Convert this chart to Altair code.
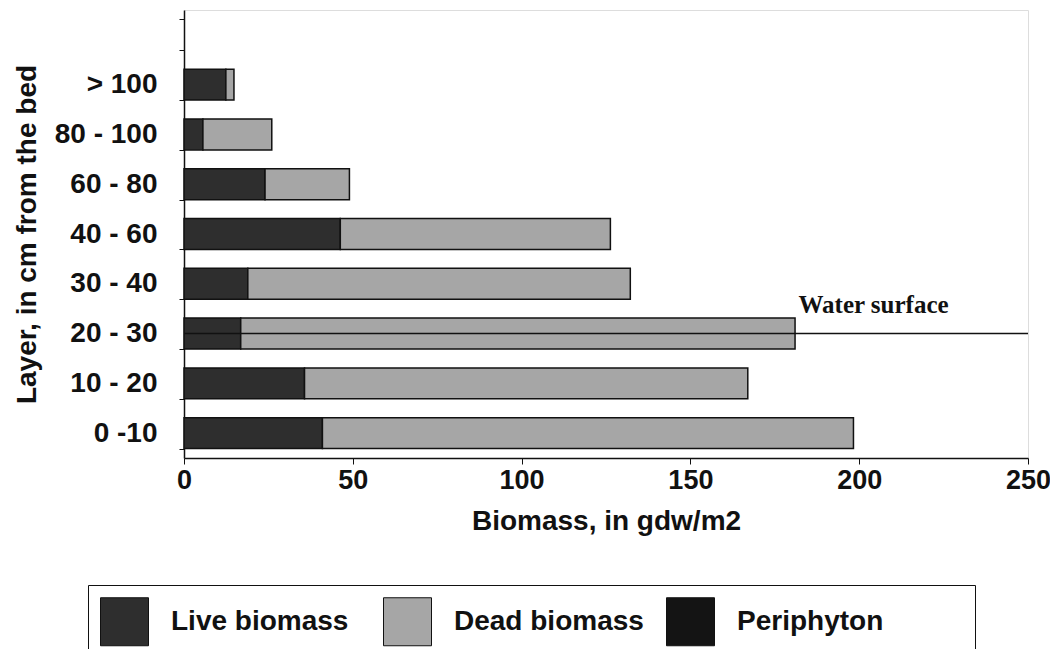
import altair as alt
import pandas as pd

# Layers (top to bottom); blank first entry = empty band above the bars
layers = ["> 100", "80 - 100", "60 - 80", "40 - 60", "30 - 40", "20 - 30", "10 - 20", "0 -10"]
y_domain = [" "] + layers
live = [12.4, 5.6, 24.0, 46.3, 18.9, 16.8, 35.7, 41.0]
dead = [2.4, 20.4, 25.0, 80.0, 113.3, 164.2, 131.3, 157.3]
series = ["Live biomass", "Dead biomass", "Periphyton"]
colors = ["#2e2e2e", "#a6a6a6", "#141414"]
x_ticks = [0, 50, 100, 150, 200, 250]

water_layer = "20 - 30"
water_x = [0, 250]
water_label_x = 182
water_label = "Water surface"

rows = []
for lay, lv, dv in zip(layers, live, dead):
    rows.append({"layer": lay, "series": "Live biomass", "value": lv, "ord": 0})
    rows.append({"layer": lay, "series": "Dead biomass", "value": dv, "ord": 1})
df = pd.DataFrame(rows)

FONT = "Liberation Sans"

bars = alt.Chart(df).mark_bar(stroke="#111111", strokeWidth=1.5).encode(
    x=alt.X("value:Q", stack="zero",
            scale=alt.Scale(domain=[0, 250], nice=False, zero=True),
            axis=alt.Axis(values=x_ticks, title="Biomass, in gdw/m2", grid=False,
                          labelFont=FONT, labelFontSize=27, labelFontWeight="bold",
                          labelColor="#111111", labelPadding=3, tickSize=6,
                          tickColor="#111111", domainColor="#111111", domainWidth=1.5,
                          titleFont=FONT, titleFontSize=28, titleFontWeight="bold",
                          titleColor="#111111", titlePadding=14, labelFlush=False)),
    y=alt.Y("layer:N", scale=alt.Scale(domain=y_domain, paddingInner=0.38, paddingOuter=0.19),
            axis=alt.Axis(title="Layer, in cm from the bed", tickBand="extent",
                          labelFont=FONT, labelFontSize=28, labelFontWeight="bold",
                          labelColor="#111111", labelPadding=22, tickSize=5,
                          tickColor="#111111", domainColor="#111111", domainWidth=1.5,
                          titleFont=FONT, titleFontSize=28, titleFontWeight="bold",
                          titleColor="#111111", titlePadding=13)),
    color=alt.Color("series:N",
                    scale=alt.Scale(domain=series, range=colors),
                    legend=alt.Legend(title=" ", titleOrient="right", titlePadding=80,
                                      orient="none", direction="horizontal",
                                      columns=3, legendX=-96, legendY=575,
                                      symbolType="square", symbolSize=2304,
                                      symbolStrokeColor="#111111", symbolStrokeWidth=1,
                                      symbolOpacity=1, labelLimit=400,
                                      labelFont=FONT, labelFontSize=28, labelFontWeight="bold",
                                      labelColor="#111111", labelOffset=22, columnPadding=20,
                                      gridAlign="all", padding=12,
                                      fillColor="white", strokeColor="#111111")),
    order=alt.Order("ord:Q"),
)

wdf = pd.DataFrame({"layer": [water_layer], "x": [water_x[0]], "x2": [water_x[1]],
                    "lx": [water_label_x], "label": [water_label]})

rule = alt.Chart(wdf).mark_rule(color="#111111", strokeWidth=1.5).encode(
    x="x:Q", x2="x2:Q", y=alt.Y("layer:N"))

label = alt.Chart(wdf).mark_text(font="Liberation Serif", fontSize=25, fontWeight="bold",
                                 align="left", baseline="alphabetic", dy=-21,
                                 color="#111111").encode(
    x="lx:Q", y=alt.Y("layer:N"), text="label:N")

chart = alt.layer(bars, rule, label).properties(
    width=844, height=448,
    autosize=alt.AutoSizeParams(type="none"),
    padding={"left": 176, "top": 2, "right": 22, "bottom": 191},
).configure_view(stroke="#111111", strokeWidth=1.5).configure(background="white")

chart.save("out.html", embed_options={"renderer": "svg", "actions": False})
